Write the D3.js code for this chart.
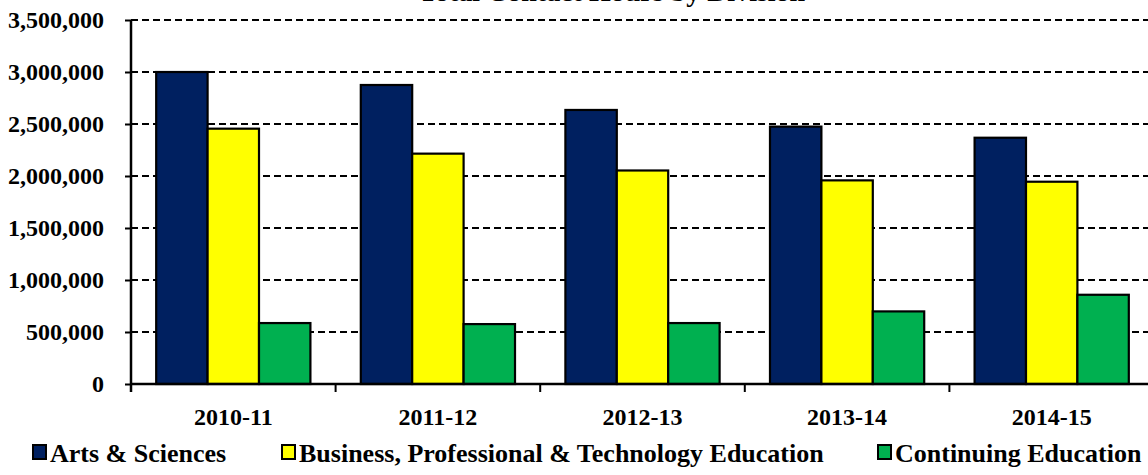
<!DOCTYPE html>
<html><head><meta charset="utf-8">
<script src="https://cdn.jsdelivr.net/npm/d3@7/dist/d3.min.js"></script>
<style>
html,body{margin:0;padding:0;background:#fff;}
svg{display:block;}
text{font-family:"Liberation Serif","Times New Roman",serif;font-weight:bold;fill:#000;}
</style></head>
<body>
<svg id="chart" width="1148" height="475"></svg>
<script>
const title = "Total Contact Hours by Division";
const categories = ["2010-11","2011-12","2012-13","2013-14","2014-15"];
const seriesNames = ["Arts & Sciences","Business, Professional & Technology Education","Continuing Education"];
const artsSciences = [3000000, 2875000, 2635000, 2475000, 2368000];
const businessTech = [2455000, 2215000, 2053000, 1958000, 1945000];
const continuingEd = [586000, 576000, 586000, 698000, 858000];
const yTicks = [0, 500000, 1000000, 1500000, 2000000, 2500000, 3000000, 3500000];
const colors = ["#002060", "#FFFF00", "#00B050"];

(function () {
const seriesValues = [artsSciences, businessTech, continuingEd];
const svg = d3.select("#chart");
const pLeft = 131, pRight = 1154, pTop = 20, pBottom = 384;

const x = d3.scaleBand().domain(categories).range([pLeft, pRight]).padding(0);
const xs = d3.scaleBand().domain(seriesNames).range([0, x.bandwidth()]).paddingInner(0).paddingOuter(0.49);
const y = d3.scaleLinear().domain([0, 3500000]).range([pBottom, pTop]);

// title (cut off at the top as in the reference)
svg.append("text").attr("x", 612).attr("y", 0.8).attr("text-anchor", "middle")
  .style("font-size", "28px").text(title);

// gridlines
svg.append("g").selectAll("line").data(yTicks.filter(d => d > 0)).join("line")
  .attr("x1", pLeft).attr("x2", 1148).attr("y1", d => y(d)).attr("y2", d => y(d))
  .attr("stroke", "#000").attr("stroke-width", 2).attr("stroke-dasharray", "7,4");

// bars
const data = [];
categories.forEach((c, i) => seriesNames.forEach((s, j) => data.push({c, s, j, v: seriesValues[j][i]})));
svg.append("g").selectAll("rect").data(data).join("rect")
  .attr("x", d => x(d.c) + xs(d.s)).attr("width", xs.bandwidth())
  .attr("y", d => y(d.v)).attr("height", d => y(0) - y(d.v))
  .attr("fill", d => colors[d.j]).attr("stroke", "#000").attr("stroke-width", 2.2);

// y axis
const yAxis = svg.append("g").attr("transform", `translate(${pLeft},0)`)
  .call(d3.axisLeft(y).tickValues(yTicks).tickFormat(d3.format(",")).tickSize(6).tickSizeOuter(0).tickPadding(21));
yAxis.select(".domain").remove();
yAxis.selectAll(".tick line").attr("stroke", "#000").attr("stroke-width", 2);
yAxis.selectAll("text").style("font-size", "24px").style("font-family", "Liberation Serif").style("font-weight", "bold").attr("fill", "#000");
svg.append("line").attr("x1", pLeft).attr("x2", pLeft).attr("y1", pTop).attr("y2", pBottom + 8)
  .attr("stroke", "#000").attr("stroke-width", 2.5);

// x axis
const xAxis = svg.append("g").attr("transform", `translate(0,${pBottom})`)
  .call(d3.axisBottom(x).tickSize(0).tickPadding(24));
xAxis.select(".domain").remove();
xAxis.selectAll("text").style("font-size", "24px").style("font-family", "Liberation Serif").style("font-weight", "bold").attr("fill", "#000");
svg.append("line").attr("x1", pLeft).attr("x2", 1148).attr("y1", pBottom).attr("y2", pBottom)
  .attr("stroke", "#000").attr("stroke-width", 2.5);
svg.append("g").selectAll("line").data(categories.slice(1)).join("line")
  .attr("x1", d => x(d)).attr("x2", d => x(d)).attr("y1", pBottom).attr("y2", pBottom + 8)
  .attr("stroke", "#000").attr("stroke-width", 2);

// legend
const legendX = [33, 282, 878];
const lg = svg.append("g").selectAll("g").data(seriesNames).join("g")
  .attr("transform", (d, i) => `translate(${legendX[i]},0)`);
lg.append("rect").attr("x", 0).attr("y", 445).attr("width", 13).attr("height", 14)
  .attr("fill", (d, i) => colors[i]).attr("stroke", "#000").attr("stroke-width", 2);
lg.append("text").attr("x", 17).attr("y", 462).style("font-size", "26px").text(d => d);
})();
</script>
</body></html>
